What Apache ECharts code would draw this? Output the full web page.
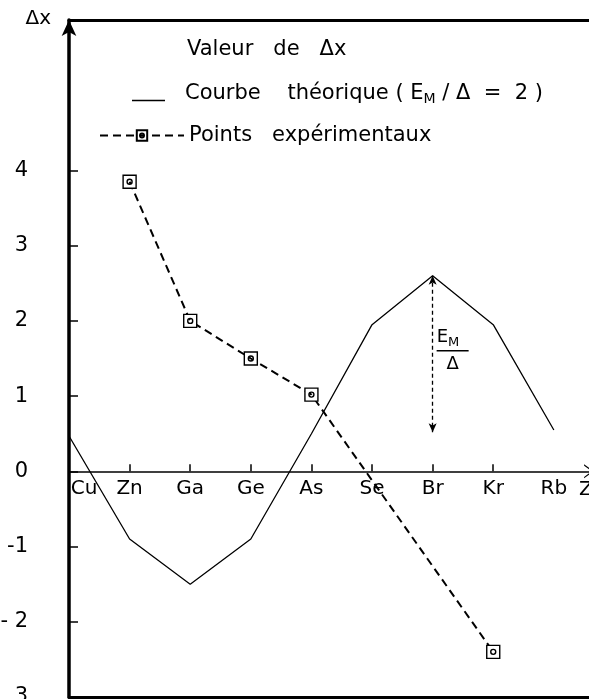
<!DOCTYPE html>
<html>
<head>
<meta charset="utf-8">
<script src="https://cdn.jsdelivr.net/npm/echarts@6/dist/echarts.min.js"></script>
<style>
    html, body { margin: 0; padding: 0; background: #fff; }
    #delta_x_chart { width: 589px; height: 699px; }
</style>
</head>
<body>
<div id="delta_x_chart"></div>
<script>
// Chart data
// ------------------------------

// Atomic numbers (Z) and element symbols along the horizontal axis
var elementZ = [29, 30, 31, 32, 33, 34, 35, 36, 37];
var elementNames = ['Cu', 'Zn', 'Ga', 'Ge', 'As', 'Se', 'Br', 'Kr', 'Rb'];

// Theoretical curve (E_M / Delta = 2), one value per element
var theoryValues = [0.47, -0.9, -1.5, -0.9, 0.5, 1.95, 2.6, 1.95, 0.55];

// Experimental points
var expZ = [30, 31, 32, 33, 36];
var expValues = [3.85, 2.0, 1.5, 1.02, -2.4];

// E_M / Delta arrow at Br
var arrowZ = 35;
var arrowFrom = 2.6;
var arrowTo = 0.52;

// Vertical axis ticks
var yTicks = [-3, -2, -1, 0, 1, 2, 3, 4];
var yTickLabels = ['3', '- 2', '-1', '0', '1', '2', '3', '4'];


var DeltaXChart = function() {

    var _deltaXChart = function() {
        if (typeof echarts == 'undefined') {
            console.warn('Warning - echarts.min.js is not loaded.');
            return;
        }

        var chart_element = document.getElementById('delta_x_chart');
        if (!chart_element) return;

        var chart = echarts.init(chart_element);

        var theoryData = elementZ.map(function(z, i) { return [z, theoryValues[i]]; });
        var expData = expZ.map(function(z, i) { return [z, expValues[i]]; });

        var font = 'DejaVu Sans';
        var xMin = 29, xMax = 37.58;
        var yMin = -3, yMax = 6;

        // plot frame (pixels)
        var gridTop = 20, gridBottom = 2, gridLeft = 69;
        var plotH = 699 - gridTop - gridBottom;
        // second grid ends exactly on y = 0 so its bottom axis is the zero line
        var zeroBottom = 699 - (gridTop + plotH * yMax / (yMax - yMin));

        // square with a small circle inside
        var markerPath = 'path://M0,0H13V13H0Z M6.5,4A2.5,2.5 0 1,0 6.5,9A2.5,2.5 0 1,0 6.5,4Z';

        chart.setOption({
            animation: false,

            textStyle: {
                fontFamily: font,
                color: '#000'
            },

            grid: [
                {
                    left: gridLeft,
                    right: 0,
                    top: gridTop,
                    bottom: gridBottom,
                    outerBoundsMode: 'none'
                },
                {
                    left: gridLeft,
                    right: 0,
                    top: gridTop,
                    bottom: zeroBottom,
                    outerBoundsMode: 'none'
                }
            ],

            title: {
                text: 'Valeur   de   Δx',
                left: 182,
                top: 34,
                textStyle: {
                    fontFamily: font,
                    fontSize: 21,
                    fontWeight: 'normal',
                    color: '#000'
                }
            },

            legend: [
                {
                    data: [{ name: 'theory', icon: 'rect' }],
                    left: 127,
                    top: 78,
                    itemWidth: 33,
                    itemHeight: 1.6,
                    formatter: function() {
                        return 'Courbe    théorique ( E{sub|M} / Δ  =  2 )';
                    },
                    textStyle: {
                        fontFamily: font,
                        fontSize: 21,
                        color: '#000',
                        padding: [0, 0, 14, 15],
                        rich: {
                            sub: { fontFamily: font, fontSize: 14, padding: [12, 0, 0, 0], color: '#000' }
                        }
                    }
                },
                {
                    data: ['exp'],
                    left: 94,
                    top: 120,
                    itemWidth: 84,
                    itemHeight: 13,
                    formatter: function() {
                        return 'Points   expérimentaux';
                    },
                    textStyle: {
                        fontFamily: font,
                        fontSize: 21,
                        color: '#000',
                        padding: [0, 0, 0, 0]
                    }
                }
            ],

            xAxis: [
                {
                    // frame, bottom edge
                    type: 'value',
                    gridIndex: 0,
                    position: 'bottom',
                    min: xMin,
                    max: xMax,
                    axisLine: { onZero: false, lineStyle: { color: '#000', width: 3 } },
                    axisTick: { show: false },
                    axisLabel: { show: false },
                    splitLine: { show: false }
                },
                {
                    // frame, top edge
                    type: 'value',
                    gridIndex: 0,
                    position: 'top',
                    min: xMin,
                    max: xMax,
                    axisLine: { onZero: false, lineStyle: { color: '#000', width: 3 } },
                    axisTick: { show: false },
                    axisLabel: { show: false },
                    splitLine: { show: false }
                },
                {
                    // Z axis along the zero line
                    type: 'value',
                    gridIndex: 1,
                    position: 'bottom',
                    min: xMin,
                    max: xMax,
                    name: 'Z',
                    nameLocation: 'end',
                    nameGap: -10,
                    nameTextStyle: {
                        fontFamily: font,
                        fontSize: 20,
                        color: '#000',
                        align: 'left',
                        verticalAlign: 'top',
                        padding: [8, 0, 0, 0]
                    },
                    axisLine: {
                        onZero: false,
                        symbol: ['none', 'path://M0,14L10,0L20,14L18,14L10,3L2,14Z'],
                        symbolSize: [14, 12],
                        lineStyle: { color: '#000', width: 1.5 }
                    },
                    axisTick: {
                        inside: true,
                        length: 7,
                        customValues: elementZ.slice(1, 8),
                        lineStyle: { color: '#000', width: 1.5 }
                    },
                    axisLabel: {
                        customValues: elementZ,
                        margin: 7,
                        fontFamily: font,
                        fontSize: 20,
                        color: '#000',
                        formatter: function(v) {
                            var i = elementZ.indexOf(Math.round(v));
                            if (i === 0) return '{cu|' + elementNames[i] + '}';
                            return i >= 0 ? elementNames[i] : '';
                        },
                        rich: {
                            cu: { fontFamily: font, fontSize: 20, color: '#000', padding: [0, 0, 0, 30] }
                        }
                    },
                    splitLine: { show: false }
                }
            ],

            yAxis: [
                {
                    type: 'value',
                    gridIndex: 0,
                    min: yMin,
                    max: yMax,
                    name: 'Δx',
                    nameLocation: 'end',
                    nameGap: -9,
                    nameTextStyle: {
                        fontFamily: font,
                        fontSize: 20,
                        color: '#000',
                        align: 'right',
                        verticalAlign: 'bottom',
                        padding: [0, 18, 0, 0]
                    },
                    axisLine: {
                        onZero: false,
                        symbol: ['none', 'arrow'],
                        symbolSize: [11, 16],
                        lineStyle: { color: '#000', width: 3.5 }
                    },
                    axisTick: {
                        inside: true,
                        length: 9,
                        customValues: yTicks,
                        lineStyle: { color: '#000', width: 1.5 }
                    },
                    axisLabel: {
                        customValues: yTicks,
                        margin: 41,
                        fontFamily: font,
                        fontSize: 21,
                        color: '#000',
                        formatter: function(v) {
                            var i = yTicks.indexOf(Math.round(v));
                            return i >= 0 ? yTickLabels[i] : '';
                        }
                    },
                    splitLine: { show: false }
                },
                {
                    type: 'value',
                    gridIndex: 1,
                    min: 0,
                    max: yMax,
                    show: false
                }
            ],

            series: [
                {
                    name: 'theory',
                    type: 'line',
                    xAxisIndex: 0,
                    yAxisIndex: 0,
                    symbol: 'none',
                    itemStyle: { color: '#000' },
                    lineStyle: { color: '#000', width: 1.3 },
                    data: theoryData,
                    markLine: {
                        silent: true,
                        symbol: ['arrow', 'arrow'],
                        symbolSize: [6, 9],
                        lineStyle: { color: '#000', type: [4, 3], width: 1.3 },
                        label: { show: false },
                        data: [[{ coord: [arrowZ, arrowFrom] }, { coord: [arrowZ, arrowTo] }]]
                    },
                    markPoint: {
                        silent: true,
                        symbol: 'circle',
                        symbolSize: 0,
                        data: [{ coord: [arrowZ, (arrowFrom + arrowTo) / 2 + 0.03] }],
                        label: {
                            show: true,
                            position: 'right',
                            distance: 4,
                            formatter: '{e|E}{s|M}\n{bar| }\n{d|Δ}',
                            rich: {
                                e: { fontFamily: font, fontSize: 18, color: '#000', lineHeight: 20 },
                                s: { fontFamily: font, fontSize: 13, color: '#000', lineHeight: 20, padding: [9, 0, 0, 0] },
                                bar: { width: 32, height: 1.5, lineHeight: 6, backgroundColor: '#000' },
                                d: { fontFamily: font, fontSize: 18, color: '#000', lineHeight: 22, align: 'center', width: 32 }
                            }
                        }
                    }
                },
                {
                    name: 'exp',
                    type: 'line',
                    xAxisIndex: 0,
                    yAxisIndex: 0,
                    symbol: markerPath,
                    symbolSize: 13,
                    showAllSymbol: true,
                    itemStyle: { color: '#fff', borderColor: '#000', borderWidth: 1.4 },
                    lineStyle: { color: '#000', width: 2, type: [8, 5] },
                    data: expData,
                    z: 3
                }
            ]
        });
    };

    return {
        init: function() {
            _deltaXChart();
        }
    }
}();

document.addEventListener('DOMContentLoaded', function() {
    DeltaXChart.init();
});
</script>
</body>
</html>
